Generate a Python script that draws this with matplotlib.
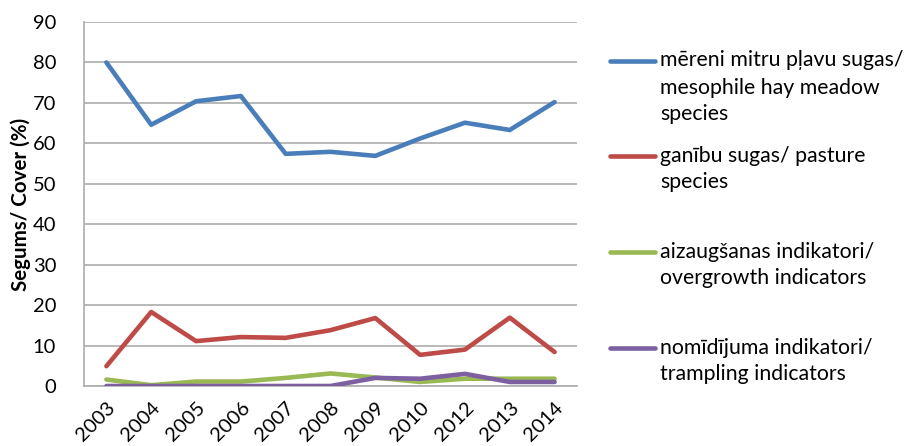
import matplotlib
matplotlib.use("Agg")
import matplotlib.pyplot as plt
from matplotlib.lines import Line2D

plt.rcParams['font.family'] = ['Lato', 'DejaVu Sans']

years = ["2003", "2004", "2005", "2006", "2007", "2008", "2009", "2010", "2012", "2013", "2014"]
mesophile = [80.0, 64.6, 70.4, 71.7, 57.4, 57.9, 56.9, 61.2, 65.1, 63.3, 70.2]
pasture = [4.9, 18.3, 11.1, 12.1, 11.9, 13.8, 16.8, 7.7, 9.0, 16.9, 8.4]
overgrowth = [1.6, 0.2, 1.1, 1.1, 2.0, 3.1, 2.1, 1.0, 1.8, 1.8, 1.8]
trampling = [0.0, 0.0, 0.0, 0.0, 0.0, 0.0, 2.0, 1.8, 3.0, 1.0, 1.0]

labels = [["mēreni mitru pļavu sugas/", "mesophile hay meadow", "species"],
          ["ganību sugas/ pasture", "species"],
          ["aizaugšanas indikatori/", "overgrowth indicators"],
          ["nomīdījuma indikatori/", "trampling indicators"]]
colors = ["#4A7EBB", "#BE4B48", "#98B954", "#7D60A0"]
series = [mesophile, pasture, overgrowth, trampling]
yticks = [0, 10, 20, 30, 40, 50, 60, 70, 80, 90]

W, H = 915, 446
fig = plt.figure(figsize=(W / 100, H / 100), dpi=100)
ax = fig.add_axes([84 / W, 1 - 386 / H, (577 - 84) / W, (386 - 22) / H])

x = list(range(len(years)))
for vals, c in zip(series, colors):
    ax.plot(x, vals, color=c, lw=3.3, solid_capstyle='round', solid_joinstyle='round', zorder=3)

ax.set_xlim(-0.5, len(years) - 0.5)
ax.set_ylim(0, 90)
ax.set_yticks(yticks)
ax.set_xticks(x)
ax.set_xticklabels(years, rotation=45, ha='right', va='top', rotation_mode='anchor')
ax.tick_params(axis='both', length=0, labelsize=14.5, colors='black')
ax.tick_params(axis='y', pad=20)
ax.tick_params(axis='x', pad=9)
ax.grid(axis='y', color='#ADADAD', lw=1.2, zorder=0)
ax.set_axisbelow(True)
for s in ['top', 'right']:
    ax.spines[s].set_visible(False)
for s in ['left', 'bottom']:
    ax.spines[s].set_color('#ADADAD')
    ax.spines[s].set_linewidth(1.2)
ax.set_ylabel("Segums/ Cover (%)", fontsize=14.8, fontweight='bold', labelpad=1)

# legend (manual, Excel-like layout)
handle_y = [61, 156, 252, 348]
fs = 15.3
line_h = 27.0
for lines, c, hy in zip(labels, colors, handle_y):
    fy = 1 - hy / H
    fig.add_artist(Line2D([610 / W, 655 / W], [fy, fy], color=c, lw=3.3,
                          solid_capstyle='round', transform=fig.transFigure))
    for k, ln in enumerate(lines):
        base = hy + 5.5 + k * line_h
        fig.text(660 / W, 1 - base / H, ln, fontsize=fs, va='baseline', ha='left')

fig.savefig("out.png", dpi=100)
